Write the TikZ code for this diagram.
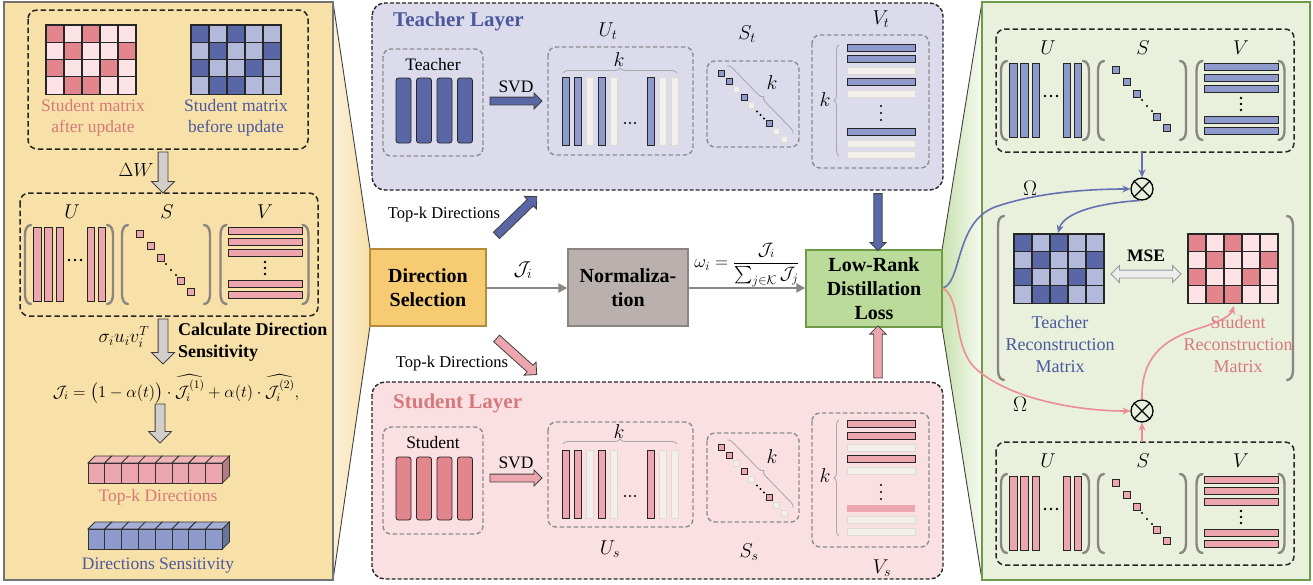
\RequirePackage{fix-cm}
\documentclass[tikz,border=0pt]{standalone}
\usepackage{amsmath}
\usepackage{fontspec}
\setmainfont{Liberation Serif}
\usetikzlibrary{shapes.arrows,decorations.pathreplacing,arrows.meta,calc}
\definecolor{dblue}{HTML}{5A67A7}
\definecolor{lblue}{HTML}{B3B9DA}
\definecolor{mblue}{HTML}{8E9ACB}
\definecolor{dpink}{HTML}{E2858D}
\definecolor{lpink}{HTML}{FDE3E6}
\definecolor{mpink}{HTML}{EDA6AD}
\definecolor{offc}{HTML}{F3F0EB}
\definecolor{offd}{HTML}{DEDAD5}
\definecolor{tblue}{HTML}{4B5A9D}
\definecolor{tpink}{HTML}{D7797B}
\definecolor{ypanel}{HTML}{F8E0A9}
\definecolor{gpanel}{HTML}{E9F1DC}
\definecolor{gborder}{HTML}{6F9B48}
\definecolor{tlayer}{HTML}{DCDBEC}
\definecolor{slayer}{HTML}{FBE0E3}
\definecolor{dsel}{HTML}{F6CB72}
\definecolor{dselb}{HTML}{B48C3C}
\definecolor{normc}{HTML}{BAB1AF}
\definecolor{normb}{HTML}{8C8482}
\definecolor{lrk}{HTML}{BADB9A}
\definecolor{parc}{HTML}{8C8682}
\definecolor{bracec}{HTML}{A9A9A9}
\definecolor{arrgray}{HTML}{8C8481}
\definecolor{cblue}{HTML}{6671B2}
\definecolor{cpink}{HTML}{EC8C95}
\definecolor{garr}{HTML}{D3CECA}

\newcommand\LP[3]{\draw[parenst] ({#1+6},#2) to[out=180,in=90] (#1,{#2+10}) -- (#1,{#3-10}) to[out=-90,in=180] ({#1+6},#3);}
\newcommand\RP[3]{\draw[parenst] ({#1-6},#2) to[out=0,in=90] (#1,{#2+10}) -- (#1,{#3-10}) to[out=-90,in=0] ({#1-6},#3);}
\newcommand\Grid[4]{%
 \foreach \rw [count=\r from 0] in {{1,0,1,0,0},{0,1,0,0,1},{1,0,0,1,0},{0,1,1,0,0}}{
   \foreach \v [count=\c from 0] in \rw {
     \ifnum\v=1 \def\cc{#3}\else\def\cc{#4}\fi
     \draw[fill=\cc, line width=1.1pt, draw=black!85] ({#1+\c*18},{#2+\r*17.3}) rectangle +(18,17.3);
   }}}
\newcommand\Cubes[5]{%
 \foreach \i in {0,...,7}{
   \draw[fill=#4, draw=black!80, line width=0.8pt] ({#1+\i*16.8},#2) -- ++(7,-7) -- ++(16.8,0) -- ++(-7,7) -- cycle;
   \draw[fill=#3, draw=black!80, line width=0.8pt] ({#1+\i*16.8},#2) rectangle ++(16.8,20);
 }
 \draw[fill=#5, draw=black!80, line width=0.8pt] ({#1+8*16.8},#2) -- ++(7,-7) -- ++(0,20) -- ++(-7,7) -- cycle;}
\newcommand\SVDgrp[4]{%
\begin{scope}[shift={(#1,#2)}]
 \draw[dbox] (0,0) rectangle (298,123);
 \node[mlab] (#4U) at (52,19) {$U$};
 \node[mlab] (#4S) at (147,19) {$S$};
 \node[mlab] (#4V) at (245,19) {$V$};
 \LP{5}{32}{111}\RP{93}{32}{111}
 \LP{102}{32}{111}\RP{190}{32}{111}
 \LP{200.5}{32}{111}\RP{288.5}{32}{111}
 \foreach \x in {13.5,24.5,36,67,78}{\draw[bar,fill=#3] (\x,34) rectangle (\x+7.5,108);}
 \foreach \x in {49,55,61}{\fill (\x,67) circle (1.3);}
 \foreach \x/\y in {120/41,131/53,141/65,161/88,171/99}{\draw[bar,fill=#3] (\x-3.5,\y-3.5) rectangle (\x+3.5,\y+3.5);}
 \foreach \x/\y in {146/71,151/77,156/82}{\fill (\x,\y) circle (1.2);}
 \foreach \y in {38,49,60,91,102}{\draw[bar,fill=#3] (208,\y-3.5) rectangle (282,\y+3.5);}
 \foreach \y in {69,75,81}{\fill (245,\y) circle (1.3);}
\end{scope}}
\newcommand\Ubars[3]{\foreach \x/\on in {562/1,574/1,586/0,598/1,610/0,647/1,659/0,671/0}{\ifnum\on=1 \draw[bar,fill=#3] (\x,#1) rectangle (\x+7.5,#2);\else \draw[offbar] (\x,#1) rectangle (\x+7.5,#2);\fi}
 \foreach \x in {625,630,635}{\fill (\x,{(#1+#2)/2+12}) circle (1.1);}}
\newcommand\Vbars[2]{\foreach \y/\on in {#1}{\ifcase\on \draw[offbar] (847,\y-3.5) rectangle (915,\y+3.5);\or \draw[bar,fill=#2] (847,\y-3.5) rectangle (915,\y+3.5);\or \fill[#2] (847,\y-3.5) rectangle (915,\y+3.5);\fi}}
\newcommand\Ssq[3]{\foreach \dx/\dy/\on in {14/12/1,22/20/1,29/28/0,37/36/1,44/44/0,62/62/1,69/70/0,77/78/0}{\ifnum\on=1 \draw[bar,fill=#3] ({#1+\dx-3},{#2+\dy-3}) rectangle +(6,6);\else \draw[offbar] ({#1+\dx-3},{#2+\dy-3}) rectangle +(6,6);\fi}
 \foreach \d in {50,53.5,57}{\fill ({#1+\d},{#2+\d+0.5}) circle (1.1);}}

\begin{document}
\begin{tikzpicture}[x=1pt,y=-1pt,
  lab/.style={font=\fontsize{17.5}{21.5}\selectfont, inner sep=0pt, align=center},
  mlab/.style={font=\fontsize{20}{22}\selectfont, inner sep=0pt},
  bl/.style={font=\fontsize{20}{24}\selectfont\bfseries, inner sep=0pt, align=center},
  dbox/.style={dash pattern=on 5.5pt off 3pt, rounded corners=9pt, line width=1.5pt, draw=black!85},
  gbox/.style={dash pattern=on 4.5pt off 2.5pt, rounded corners=8pt, line width=1.4pt, draw=black!45},
  layerbox/.style={dash pattern=on 4pt off 2pt, rounded corners=13pt, line width=1.4pt, draw=black!85},
  parenst/.style={draw=parc, line width=2.4pt, line cap=round},
  bar/.style={draw=black!85, line width=0.8pt},
  offbar/.style={draw=offd, fill=offc, line width=0.8pt},
  brc/.style={draw=bracec, line width=0.9pt, decorate, decoration={brace, amplitude=5pt}},
  blkarrow/.style={single arrow, draw=black!75, line width=0.8pt, inner sep=0pt, single arrow head extend=#1, minimum height=0pt},
  curv/.style={line width=1.6pt, -{Stealth[length=8pt,width=7pt]}},
  garrow/.style={draw=arrgray, line width=2.4pt, -{Triangle[length=9pt,width=9pt]}}
]
\useasboundingbox (0,0) rectangle (1313,584);

% ================= LEFT PANEL =================
\shade[left color=ypanel!45!white, right color=ypanel] (333,2) -- (370,249) -- (370,326) -- (333,580) -- cycle;
\draw[black!75, line width=0.9pt] (333,2) -- (370,249) (333,580) -- (370,326);
\draw[fill=ypanel, draw=black!55, line width=1.2pt] (4,2) rectangle (333,580);

\draw[dbox] (28,10) rectangle (308,149);
\Grid{46}{25}{dpink}{lpink}
\Grid{191}{25}{dblue}{lblue}
\node[lab, text=tpink] (lblA) at (93,118) {Student matrix\\after update};
\node[lab, text=tblue] (lblB) at (236,118) {Student matrix\\before update};

\node[blkarrow=6.5pt, fill=garr, minimum height=41pt, inner ysep=4.5pt, rotate=-90] (arrDW) at (163,170) {};
\node[mlab, font=\fontsize{19}{22}\selectfont] (dW) at (136,170) {$\Delta W$};

\SVDgrp{20}{193}{mpink}{L}

\node[blkarrow=6.5pt, fill=garr, minimum height=45pt, inner ysep=4.5pt, rotate=-90] (arrSig) at (163,339) {};
\node[mlab, font=\fontsize{19}{22}\selectfont] (sig) at (124,337) {$\sigma_i u_i v_i^T$};
\node[bl, font=\fontsize{18}{22}\selectfont\bfseries, align=left, anchor=west] (calc) at (178,342) {Calculate Direction\\Sensitivity};
\node[mlab, font=\fontsize{16.5}{20}\selectfont] (form) at (176,389) {$\mathcal{J}_i = \bigl(1-\alpha(t)\bigr)\cdot\widehat{\mathcal{J}_i^{(1)}}+\alpha(t)\cdot\widehat{\mathcal{J}_i^{(2)}},$};
\node[blkarrow=6.5pt, fill=garr, minimum height=39pt, inner ysep=4.5pt, rotate=-90] (arrJ) at (160,421) {};

\Cubes{88}{463}{mpink}{mpink!85!white}{mpink!75!black}
\node[lab, text=tpink] (lblTop) at (158,497) {Top-k Directions};
\Cubes{88}{529}{mblue}{mblue!80!white}{mblue!75!black}
\node[lab, text=tblue] (lblSens) at (158,566) {Directions Sensitivity};

% ================= RIGHT PANEL =================
\shade[left color=lrk!70!gpanel, right color=gpanel!40!white] (942,250) -- (982,2) -- (982,580) -- (942,327) -- cycle;
\draw[black!75, line width=0.9pt] (942,250) -- (982,2) (942,327) -- (982,580);
\draw[fill=gpanel, draw=gborder, line width=1.6pt] (982,2) rectangle (1310,580);

\SVDgrp{996}{29}{mblue}{RT}
\SVDgrp{996}{442}{mpink}{RB}

\node[circle, draw=black, line width=1.3pt, minimum size=22pt, inner sep=0pt] (ot1) at (1142,189) {};
\draw[line width=1.3pt] (ot1.45) -- (ot1.225) (ot1.135) -- (ot1.315);
\node[circle, draw=black, line width=1.3pt, minimum size=22pt, inner sep=0pt] (ot2) at (1142,411) {};
\draw[line width=1.3pt] (ot2.45) -- (ot2.225) (ot2.135) -- (ot2.315);

\coordinate (rtb) at (1142,152);
\coordinate (rbb) at (1142,442);
\draw[cblue, curv] (rtb) -- (ot1.north);
\draw[cpink, curv] (rbb) -- (ot2.south);

\LP{998}{216}{380}
\Grid{1014}{234}{dblue}{lblue}
\Grid{1188}{234}{dpink}{lpink}
\node[bl, font=\fontsize{17.5}{21}\selectfont\bfseries] (mse) at (1146,256) {MSE};
\node[double arrow, draw=black!40, fill=black!7, line width=0.9pt, inner sep=0pt, inner ysep=3.5pt, double arrow head extend=4.5pt, minimum height=70pt] (dbl) at (1146,274) {};
\node[lab, font=\fontsize{18}{22}\selectfont, text=tblue] (trm) at (1060,344) {Teacher\\Reconstruction\\Matrix};
\node[lab, font=\fontsize{18}{22}\selectfont, text=tpink] (srm) at (1238,344) {Student\\Reconstruction\\Matrix};
\RP{1293}{216}{380}

\node[mlab, font=\fontsize{21}{22}\selectfont] (om1) at (1030,188) {$\Omega$};
\node[mlab, font=\fontsize{21}{22}\selectfont] (om2) at (1020,404) {$\Omega$};

% ================= MIDDLE: TEACHER =================
\draw[layerbox, fill=tlayer] (372,3) rectangle (943,190);
\node[bl, font=\fontsize{21}{24}\selectfont\bfseries, text=tblue, anchor=west] (tl) at (393,21) {Teacher Layer};
\draw[gbox] (383,49) rectangle (483,156);
\node[lab] (tname) at (433,65) {Teacher};
\foreach \x in {396,416.5,437,457.5}{\draw[bar, fill=dblue, rounded corners=2.5pt] (\x,78) rectangle (\x+15,143);}
\node[blkarrow=4pt, fill=dblue, minimum height=52pt, inner ysep=3.5pt] (svdT) at (514,101) {};
\node[lab] (svdTl) at (516,87) {SVD};

\draw[gbox] (548,47) rectangle (693,155);
\node[mlab] (Ut) at (608,31) {$U_t$};
\draw[brc] (563,73) -- (677,73);
\node[mlab] (kUt) at (619,60) {$k$};
\Ubars{77}{145}{mblue}

\draw[gbox] (707,61) rectangle (799,147);
\node[mlab] (St) at (747,34) {$S_t$};
\Ssq{707}{61}{mblue}
\draw[brc] (727,66) -- (793,134);
\node[mlab] (kSt) at (772,83) {$k$};

\draw[gbox] (812,35) rectangle (929,168);
\node[mlab] (Vt) at (881,19) {$V_t$};
\Vbars{48/1,59/1,71/0,82/1,94/0,132/1,144/0,155/0}{mblue}
\foreach \y in {106,113,120}{\fill (881,\y) circle (1.2);}
\draw[brc] (839,156) -- (839,45);
\node[mlab] (kVt) at (825,100) {$k$};

% ================= MIDDLE: STUDENT =================
\draw[layerbox, fill=slayer] (372,382) rectangle (943,579);
\node[bl, font=\fontsize{21}{24}\selectfont\bfseries, text=tpink, anchor=west] (sl) at (393,403) {Student Layer};
\draw[gbox] (383,427) rectangle (483,534);
\node[lab] (sname) at (433,443) {Student};
\foreach \x in {396,416.5,437,457.5}{\draw[bar, fill=dpink, rounded corners=2.5pt] (\x,457) rectangle (\x+15,520);}
\node[blkarrow=4pt, fill=mpink, minimum height=52pt, inner ysep=3.5pt] (svdS) at (514,478) {};
\node[lab] (svdSl) at (516,463) {SVD};

\draw[gbox] (548,422) rectangle (693,527);
\node[mlab] (Us) at (610,549) {$U_s$};
\draw[brc] (563,444) -- (677,444);
\node[mlab] (kUs) at (619,432) {$k$};
\Ubars{450}{518}{mpink}

\draw[gbox] (707,433) rectangle (799,522);
\node[mlab] (Ss) at (749,552) {$S_s$};
\Ssq{707}{435}{mpink}
\draw[brc] (727,440) -- (793,508);
\node[mlab] (kSs) at (772,457) {$k$};

\draw[gbox] (812,413) rectangle (929,547);
\node[mlab] (Vs) at (882,568) {$V_s$};
\Vbars{424/1,436/1,448/0,459/1,471/0,508/2,520/0,532/0}{mpink}
\foreach \y in {485,492,499}{\fill (881,\y) circle (1.2);}
\draw[brc] (839,536) -- (839,420);
\node[mlab] (kVs) at (825,476) {$k$};

% ================= MIDDLE ROW =================
\node[draw=dselb, fill=dsel, line width=1.3pt, minimum width=116pt, minimum height=77pt, bl] (dsel) at (428,287.5) {Direction\\Selection};
\node[draw=normb, fill=normc, line width=1.3pt, minimum width=120pt, minimum height=77pt, bl] (norm) at (628,287.5) {Normaliza-\\tion};
\node[draw=gborder, fill=lrk, line width=1.5pt, minimum width=136pt, minimum height=77pt, bl] (lrl) at (874,288.5) {Low-Rank\\Distillation\\Loss};

\draw[garrow] (dsel.east |- 0,288) -- (norm.west |- 0,288);
\draw[garrow] (norm.east |- 0,288) -- (lrl.west |- 0,288);
\node[mlab] (Ji) at (523,270) {$\mathcal{J}_i$};
\node[mlab, font=\fontsize{18}{20}\selectfont] (omg) at (747,265) {$\omega_i = \dfrac{\mathcal{J}_i}{\sum_{j\in\mathcal{K}}\mathcal{J}_j}$};

\node[blkarrow=4.5pt, fill=dblue, minimum height=56pt, inner ysep=4pt, rotate=44] (tkT) at (515,217.5) {};
\node[lab, font=\fontsize{16.5}{20}\selectfont] (tkTl) at (444,215) {Top-k Directions};
\node[blkarrow=4.5pt, fill=mpink, minimum height=54pt, inner ysep=4pt, rotate=-42] (tkS) at (515,355) {};
\node[lab, font=\fontsize{16.5}{20}\selectfont] (tkSl) at (452,364) {Top-k Directions};

\node[blkarrow=4pt, fill=dblue, minimum height=57pt, inner ysep=3.8pt, rotate=-90] (dn) at (878,220) {};
\node[blkarrow=4pt, fill=mpink, minimum height=52pt, inner ysep=3.8pt, rotate=90] (up) at (878,354) {};

% curves
\coordinate (cs) at (943,288);
\draw[cblue, curv] (cs) .. controls (962,282) and (955,222) .. (995,207) .. controls (1035,193) and (1085,189) .. (ot1.west);
\draw[cblue, curv] (ot1.-100) .. controls (1100,203) and (1064,212) .. (1058,233);
\draw[cpink, curv] (cs) .. controls (962,300) and (952,345) .. (975,368) .. controls (1010,400) and (1080,411) .. (ot2.west);
\draw[cpink, curv] (ot2.north) .. controls (1141,360) and (1160,340) .. (1200,328) .. controls (1222,321) and (1231,315) .. (1234,306);
\end{tikzpicture}
\end{document}
